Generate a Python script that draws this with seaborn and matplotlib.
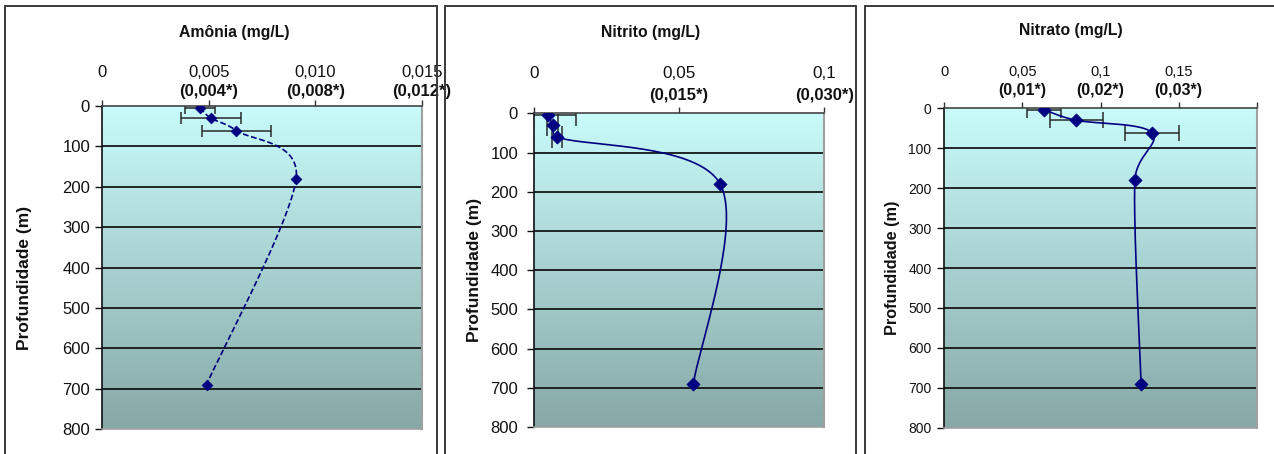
import numpy as np
import pandas as pd
import matplotlib
matplotlib.use("Agg")
import matplotlib.pyplot as plt
from matplotlib.lines import Line2D
import seaborn as sns

sns.set_style("white")
plt.rcParams['font.family'] = ['Liberation Sans', 'DejaVu Sans']

# ---------------- data ----------------
depths = [4, 30, 61, 180, 690]

amonia = [0.0046, 0.0051, 0.0063, 0.0091, 0.0049]
amonia_err = [0.0007, 0.0014, 0.0016, 0.0, 0.0]

nitrito = [0.0049, 0.0064, 0.0080, 0.0641, 0.0549]
nitrito_err = [0.0096, 0.0019, 0.0017, 0.0, 0.0]

nitrato = [0.064, 0.0845, 0.133, 0.122, 0.126]
nitrato_err = [0.011, 0.017, 0.017, 0.0, 0.0]

titles = ["Amônia (mg/L)", "Nitrito (mg/L)", "Nitrato (mg/L)"]
ylabel = "Profundidade (m)"

amonia_ticks = [0, 0.005, 0.010, 0.015]
amonia_labels = ["0", "0,005", "0,010", "0,015"]
amonia_labels2 = ["", "(0,004*)", "(0,008*)", "(0,012*)"]

nitrito_ticks = [0, 0.05, 0.1]
nitrito_labels = ["0", "0,05", "0,1"]
nitrito_labels2 = ["", "(0,015*)", "(0,030*)"]

nitrato_ticks = [0, 0.05, 0.1, 0.15, 0.2]
nitrato_labels = ["0", "0,05", "0,1", "0,15", ""]
nitrato_labels2 = ["", "(0,01*)", "(0,02*)", "(0,03*)", ""]

depth_ticks = [0, 100, 200, 300, 400, 500, 600, 700, 800]

# ---------------- figure ----------------
W, H = 1274, 454
fig = plt.figure(figsize=(W / 100, H / 100), dpi=100)
fig.patch.set_facecolor("white")

NAVY = "#000080"
top_col = np.array([201, 251, 251]) / 255
bot_col = np.array([134, 168, 166]) / 255
grad = np.linspace(0, 1, 256)[:, None]
grad_img = top_col[None, None, :] * (1 - grad[:, :, None]) + bot_col[None, None, :] * grad[:, :, None]


def add_ax(l, r, t, b):
    return fig.add_axes([l / W, 1 - b / H, (r - l) / W, (b - t) / H])


def smooth(ax, xs, ys, n=40):
    """Spreadsheet-style smoothed line (Bezier through the points), built in screen space."""
    P = ax.transData.transform(np.column_stack([xs, ys]).astype(float))
    P = np.vstack([P[0], P, P[-1]])
    segs = []
    t = np.linspace(0, 1, n)[:, None]
    for i in range(1, len(P) - 2):
        p0, p1, p2, p3 = P[i - 1], P[i], P[i + 1], P[i + 2]
        d12 = np.linalg.norm(p2 - p1)
        d02 = np.linalg.norm(p2 - p0)
        d13 = np.linalg.norm(p3 - p1)
        f1 = 1 / 6
        f2 = 1 / 6
        if d02 > 0 and d02 / 6 > d12 / 2:
            f1 = d12 / (2 * d02)
        if d13 > 0 and d13 / 6 > d12 / 2:
            f2 = d12 / (2 * d13)
        c1 = p1 + f1 * (p2 - p0)
        c2 = p2 - f2 * (p3 - p1)
        seg = (1 - t) ** 3 * p1 + 3 * (1 - t) ** 2 * t * c1 + 3 * (1 - t) * t ** 2 * c2 + t ** 3 * p2
        segs.append(seg if i == 1 else seg[1:])
    c = ax.transData.inverted().transform(np.vstack(segs))
    return c[:, 0], c[:, 1]


panels = [
    dict(box=(102, 422, 106, 429), vals=amonia, err=amonia_err, xlim=(0, 0.015),
         ticks=amonia_ticks, l1=amonia_labels, l2=amonia_labels2,
         pad1=15, off2=14.5, fs1=12, fs2=12, yfs=12, ypad=3.6, ls=(0, (3.5, 1.6)),
         ms=30, cap=4.5, title_xy=(234.5, 32), ylab_xy=(25, 278), ylfs=12.5),
    dict(box=(534, 824.3, 113.3, 427), vals=nitrito, err=nitrito_err, xlim=(0, 0.1),
         ticks=nitrito_ticks, l1=nitrito_labels, l2=nitrito_labels2,
         pad1=19, off2=17.5, fs1=12.3, fs2=12, yfs=12, ypad=6.5, ls="-",
         ms=45, cap=8, title_xy=(651, 32), ylab_xy=(475, 270), ylfs=12.5),
    dict(box=(944.3, 1256.7, 108.3, 427.7), vals=nitrato, err=nitrato_err, xlim=(0, 0.2),
         ticks=nitrato_ticks, l1=nitrato_labels, l2=nitrato_labels2,
         pad1=17, off2=18, fs1=10.5, fs2=11.5, yfs=10, ypad=4.3, ls="-",
         ms=45, cap=6, title_xy=(1071, 30), ylab_xy=(892, 268), ylfs=11.7),
]

for k, p in enumerate(panels):
    ax = add_ax(*p["box"])
    ax.imshow(grad_img, extent=[0, 1, 0, 1], transform=ax.transAxes,
              aspect="auto", zorder=0, interpolation="bilinear")
    ax.set_xlim(*p["xlim"])
    ax.set_ylim(800, 0)

    for d in depth_ticks[1:-1]:
        ax.axhline(d, color="#151515", lw=1.3, zorder=1)

    df = pd.DataFrame({"val": p["vals"], "depth": depths})
    cx, cy = smooth(ax, df["val"].values, df["depth"].values)
    sns.lineplot(x=cx, y=cy, sort=False, estimator=None, ax=ax, color=NAVY,
                 lw=1.2, linestyle=p["ls"], zorder=3)

    e = np.array(p["err"])
    m = e > 0
    ax.errorbar(df["val"].values[m], df["depth"].values[m], xerr=e[m], fmt="none",
                ecolor="#2a2a2a", elinewidth=1.1, capsize=p["cap"], capthick=1.1, zorder=2)

    sns.scatterplot(data=df, x="val", y="depth", ax=ax, marker="D", s=p["ms"],
                    color=NAVY, edgecolor=NAVY, linewidth=0.5, zorder=4, legend=False)

    ax.set_xlim(*p["xlim"])
    ax.set_ylim(800, 0)
    ax.set_xlabel("")
    ax.set_ylabel("")

    # axes & ticks
    ax.xaxis.tick_top()
    ax.set_xticks(p["ticks"])
    ax.set_xticklabels(p["l1"], fontsize=p["fs1"])
    ax.tick_params(axis="x", which="both", top=True, bottom=False, direction="out",
                   length=4, width=1, color="#333333", pad=p["pad1"])
    ax.set_yticks(depth_ticks)
    ax.set_yticklabels([str(d) for d in depth_ticks], fontsize=p["yfs"])
    ax.tick_params(axis="y", which="both", left=True, direction="out",
                   length=5, width=1, color="#111111", pad=p["ypad"])
    for lbl in ax.get_xticklabels() + ax.get_yticklabels():
        lbl.set_color("#111111")

    for x, l2 in zip(p["ticks"], p["l2"]):
        if l2:
            ax.annotate(l2, xy=(x, 1), xycoords=("data", "axes fraction"),
                        xytext=(0, p["off2"] * 0.72), textcoords="offset points",
                        ha="center", va="center", fontsize=p["fs2"], fontweight="bold",
                        color="#111111", annotation_clip=False)

    ax.spines["left"].set_color("#111111")
    ax.spines["left"].set_linewidth(1.2)
    ax.spines["top"].set_color("#444444")
    ax.spines["top"].set_linewidth(1.2)
    ax.spines["right"].set_color("#a0a0a0")
    ax.spines["right"].set_linewidth(1.5)
    ax.spines["bottom"].set_color("#a0a0a0")
    ax.spines["bottom"].set_linewidth(1.2)

    tx, ty = p["title_xy"]
    fig.text(tx / W, 1 - ty / H, titles[k], ha="center", va="center",
             fontsize=11.3, fontweight="bold", color="#111111")
    lx, ly = p["ylab_xy"]
    fig.text(lx / W, 1 - ly / H, ylabel, ha="center", va="center", rotation=90,
             fontsize=p["ylfs"], fontweight="bold", color="#111111")

# chart frames
frames = [(5, 437), (445, 856), (865, 1290)]
for l, r in frames:
    for xs, ys in [((l, l), (6, 470)), ((r, r), (6, 470)), ((l, r), (6, 6))]:
        fig.add_artist(Line2D([x / W for x in xs], [1 - y / H for y in ys],
                              transform=fig.transFigure, color="#3a3a3a", lw=1.4))

fig.savefig("out.png", dpi=100, facecolor="white")
